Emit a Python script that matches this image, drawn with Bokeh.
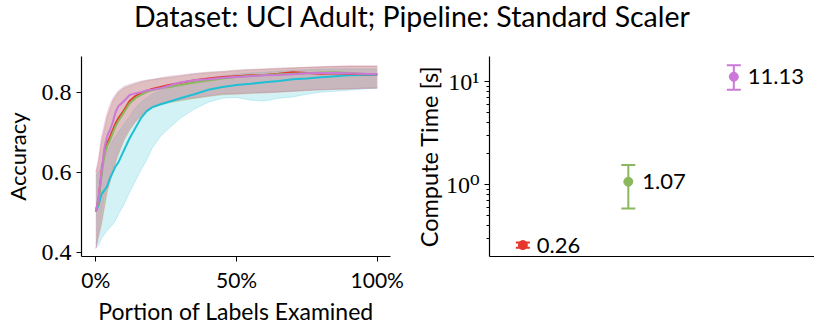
from bokeh.plotting import figure
from bokeh.layouts import column, row
from bokeh.models import (ColumnDataSource, Div, FixedTicker, Range1d, Whisker, TeeHead)
from bokeh.core.properties import value
from bokeh.embed import file_html
from bokeh.resources import INLINE

# ---------------- data ----------------
pct = [0, 1, 2, 3, 4, 5, 6, 7, 8, 10, 12, 14, 16, 18, 20, 23, 26, 30, 35, 40,
       45, 50, 55, 60, 65, 70, 75, 80, 85, 90, 95, 100]

cyan_mean = [0.502, 0.52, 0.545, 0.555, 0.565, 0.585, 0.60, 0.615, 0.625, 0.655, 0.685, 0.71,
             0.735, 0.752, 0.762, 0.77, 0.776, 0.785, 0.795, 0.806, 0.813, 0.818, 0.821, 0.825,
             0.828, 0.832, 0.834, 0.837, 0.84, 0.842, 0.843, 0.843]
cyan_low = [0.41, 0.42, 0.435, 0.445, 0.455, 0.462, 0.47, 0.48, 0.495, 0.52, 0.55, 0.578,
            0.605, 0.63, 0.66, 0.69, 0.71, 0.735, 0.758, 0.775, 0.785, 0.787, 0.78, 0.778,
            0.785, 0.788, 0.795, 0.80, 0.802, 0.805, 0.808, 0.81]
cyan_high = [0.59, 0.60, 0.62, 0.635, 0.65, 0.665, 0.68, 0.69, 0.70, 0.72, 0.74, 0.76,
             0.775, 0.785, 0.795, 0.805, 0.81, 0.818, 0.828, 0.835, 0.84, 0.845, 0.848, 0.85,
             0.852, 0.855, 0.856, 0.857, 0.858, 0.858, 0.858, 0.858]

red_mean = [0.502, 0.535, 0.60, 0.65, 0.672, 0.688, 0.705, 0.722, 0.735, 0.755, 0.778, 0.79,
            0.797, 0.803, 0.808, 0.813, 0.818, 0.823, 0.83, 0.834, 0.838, 0.84, 0.842, 0.843,
            0.846, 0.85, 0.848, 0.846, 0.847, 0.846, 0.845, 0.845]
red_low = [0.41, 0.44, 0.47, 0.51, 0.55, 0.575, 0.60, 0.625, 0.645, 0.68, 0.705, 0.725,
           0.74, 0.755, 0.763, 0.77, 0.775, 0.78, 0.785, 0.79, 0.795, 0.795, 0.797, 0.798,
           0.80, 0.802, 0.804, 0.806, 0.807, 0.808, 0.81, 0.81]
red_high = [0.60, 0.63, 0.68, 0.71, 0.74, 0.76, 0.78, 0.79, 0.80, 0.81, 0.815, 0.82,
            0.825, 0.828, 0.83, 0.834, 0.836, 0.84, 0.845, 0.848, 0.85, 0.853, 0.855, 0.857,
            0.858, 0.86, 0.862, 0.863, 0.864, 0.865, 0.865, 0.865]

green_mean = [0.502, 0.53, 0.59, 0.64, 0.665, 0.68, 0.698, 0.715, 0.728, 0.75, 0.772, 0.785,
              0.793, 0.80, 0.805, 0.81, 0.813, 0.818, 0.824, 0.829, 0.834, 0.838, 0.841, 0.843,
              0.845, 0.846, 0.847, 0.849, 0.85, 0.848, 0.846, 0.845]
green_low = [0.42, 0.45, 0.48, 0.52, 0.555, 0.58, 0.605, 0.628, 0.648, 0.682, 0.707, 0.727,
             0.742, 0.755, 0.762, 0.768, 0.773, 0.778, 0.784, 0.789, 0.793, 0.796, 0.798, 0.80,
             0.801, 0.803, 0.805, 0.806, 0.808, 0.809, 0.81, 0.811]
green_high = [0.59, 0.62, 0.67, 0.70, 0.735, 0.755, 0.775, 0.79, 0.80, 0.812, 0.817, 0.822,
              0.826, 0.83, 0.832, 0.835, 0.838, 0.841, 0.846, 0.85, 0.852, 0.855, 0.857, 0.858,
              0.86, 0.861, 0.862, 0.863, 0.864, 0.864, 0.864, 0.864]

purple_mean = [0.502, 0.54, 0.60, 0.66, 0.69, 0.705, 0.725, 0.75, 0.765, 0.778, 0.793, 0.797,
               0.80, 0.804, 0.806, 0.81, 0.816, 0.824, 0.83, 0.832, 0.836, 0.838, 0.84, 0.842,
               0.843, 0.845, 0.847, 0.848, 0.848, 0.847, 0.846, 0.845]
purple_low = [0.41, 0.45, 0.50, 0.54, 0.57, 0.59, 0.612, 0.635, 0.655, 0.69, 0.712, 0.73,
              0.745, 0.757, 0.765, 0.772, 0.777, 0.782, 0.787, 0.792, 0.796, 0.797, 0.799, 0.80,
              0.801, 0.803, 0.805, 0.806, 0.807, 0.808, 0.809, 0.81]
purple_high = [0.60, 0.64, 0.69, 0.72, 0.75, 0.77, 0.785, 0.795, 0.805, 0.815, 0.82, 0.824,
               0.828, 0.83, 0.832, 0.836, 0.84, 0.843, 0.847, 0.85, 0.852, 0.855, 0.857, 0.858,
               0.86, 0.861, 0.862, 0.864, 0.865, 0.866, 0.866, 0.866]

x_ticks = [0, 50, 100]
x_tick_labels = ["0%", "50%", "100%"]
y_ticks = [0.4, 0.6, 0.8]

# compute time
ct_pos = [0, 1, 2]
ct_mean = [0.26, 1.07, 11.13]
ct_low = [0.245, 0.59, 8.34]
ct_high = [0.275, 1.55, 14.4]
ct_labels = ["0.26", "1.07", "11.13"]
ct_colors = ["#e5372b", "#8bb85f", "#cc78d8"]

C_RED, C_GREEN, C_PURPLE, C_CYAN = "#e5372b", "#8bb85f", "#cc78d8", "#1fbfd4"

SANS = "Lato"
SERIF = "'Liberation Serif', 'DejaVu Serif', serif"

# ---------------- left plot ----------------
p1 = figure(width=410, height=279, output_backend="svg", toolbar_location=None,
            x_range=Range1d(-5.1, 104.7), y_range=Range1d(0.39, 0.889),
            min_border_left=66, min_border_right=20, min_border_top=8, min_border_bottom=60)

series = [
    (cyan_mean, cyan_low, cyan_high, C_CYAN),
    (red_mean, red_low, red_high, C_RED),
    (green_mean, green_low, green_high, C_GREEN),
    (purple_mean, purple_low, purple_high, C_PURPLE),
]
for m, lo, hi, c in series:
    p1.varea(x=pct, y1=lo, y2=hi, fill_color=c, fill_alpha=0.2)
    p1.line(x=pct, y=lo, line_color=c, line_alpha=0.25, line_width=0.8)
    p1.line(x=pct, y=hi, line_color=c, line_alpha=0.25, line_width=0.8)
for m, lo, hi, c in series:
    p1.line(x=pct, y=m, line_color=c, line_width=2)

p1.xaxis.ticker = FixedTicker(ticks=x_ticks)
p1.xaxis.major_label_overrides = {t: l for t, l in zip(x_ticks, x_tick_labels)}
p1.yaxis.ticker = FixedTicker(ticks=y_ticks)
p1.xaxis.axis_label = "Portion of Labels Examined"
p1.yaxis.axis_label = "Accuracy"

# ---------------- right plot ----------------
p2 = figure(width=404, height=279, output_backend="svg", toolbar_location=None,
            y_axis_type="log",
            x_range=Range1d(-0.316, 2.765), y_range=Range1d(0.2017, 17.5),
            min_border_left=79, min_border_right=0, min_border_top=8, min_border_bottom=59)

for i in range(len(ct_pos)):
    src = ColumnDataSource(dict(x=[ct_pos[i]], lower=[ct_low[i]], upper=[ct_high[i]]))
    w = Whisker(base="x", lower="lower", upper="upper", source=src, dimension="height",
                line_color=ct_colors[i], line_width=2,
                upper_head=TeeHead(size=14, line_color=ct_colors[i], line_width=2),
                lower_head=TeeHead(size=14, line_color=ct_colors[i], line_width=2))
    p2.add_layout(w)

p2.scatter(x=ct_pos, y=ct_mean, size=9, color=ct_colors)
p2.text(x=ct_pos, y=ct_mean, text=ct_labels, x_offset=14, text_baseline="middle",
        text_font=value(SANS), text_font_size="22px", text_color="black")

minor = [0.3, 0.4, 0.5, 0.6, 0.7, 0.8, 0.9, 2, 3, 4, 5, 6, 7, 8, 9]
p2.yaxis.ticker = FixedTicker(ticks=[1, 10], minor_ticks=minor)
p2.yaxis.major_label_overrides = {1: "10\u2070", 10: "10\u00b9"}
p2.yaxis.axis_label = "Compute Time [s]"
p2.xaxis.ticker = FixedTicker(ticks=[])

for p in (p1, p2):
    p.outline_line_color = None
    p.xgrid.grid_line_color = None
    p.ygrid.grid_line_color = None
    p.background_fill_color = "white"
    p.border_fill_color = "white"
    for ax in (p.xaxis[0], p.yaxis[0]):
        ax.axis_line_color = "black"
        ax.axis_line_width = 1.2
        ax.major_tick_line_color = "black"
        ax.major_tick_out = 5
        ax.major_tick_in = 0
        ax.minor_tick_in = 0
        ax.axis_label_text_font = SANS
        ax.axis_label_text_font_style = "normal"
        ax.axis_label_text_font_size = "22px"
        ax.axis_label_text_color = "black"
        ax.major_label_text_color = "black"
    p.yaxis.major_label_text_font = SERIF
    p.yaxis.major_label_text_font_size = "24px"

p1.xaxis.major_label_text_font = SANS
p1.xaxis.major_label_text_font_size = "21px"
p1.xaxis.axis_label_text_font_size = "23px"
p1.xaxis.axis_label_standoff = 2
p1.yaxis.minor_tick_line_color = None
p1.xaxis.minor_tick_line_color = None
p1.yaxis.axis_label_standoff = 8
p2.yaxis.minor_tick_out = 3
p2.yaxis.minor_tick_line_color = "black"
p2.yaxis.axis_label_standoff = 0
p2.yaxis.axis_label_text_font_size = "23.5px"
p2.xaxis.major_tick_line_color = None
p2.xaxis.minor_tick_line_color = None

title = Div(text="Dataset: UCI Adult; Pipeline: Standard Scaler", width=814, height=38,
            styles={"font-family": "Lato", "font-size": "28.5px", "text-align": "center",
                    "color": "black", "width": "814px", "line-height": "22px"})

layout = column(title, row(p1, p2))
open("out.html", "w").write(file_html(layout, INLINE))
